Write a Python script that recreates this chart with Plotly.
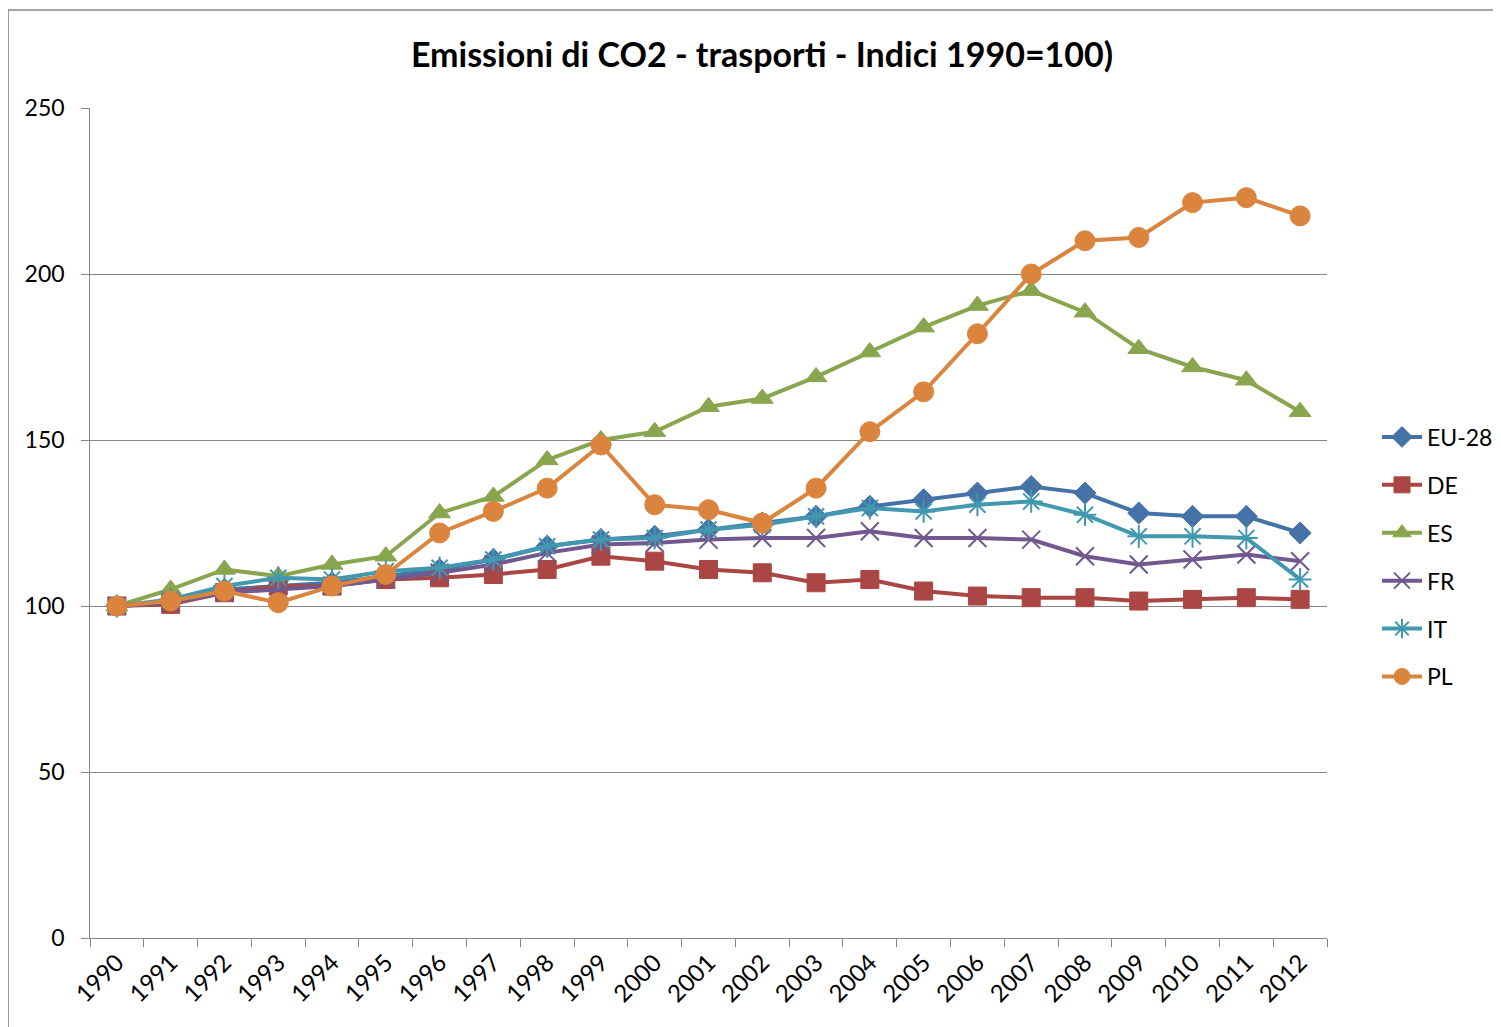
import plotly.graph_objects as go

years = [str(y) for y in range(1990, 2013)]

eu28 = [100, 101, 105, 106, 107, 109, 111, 114, 118, 120, 121, 123, 125, 127, 130, 132, 134, 136, 134, 128, 127, 127, 122]
de   = [100, 100.5, 104, 106, 106, 108, 108.5, 109.5, 111, 115, 113.5, 111, 110, 107, 108, 104.5, 103, 102.5, 102.5, 101.5, 102, 102.5, 102]
es   = [100, 105, 111, 109, 112.5, 115, 128, 133, 144, 150, 152.5, 160, 162.5, 169, 176.5, 184, 190.5, 195, 188.5, 177.5, 172, 168, 158.5]
fr   = [100, 101, 104, 105, 106, 108, 110, 112.5, 116, 118.5, 119, 120, 120.5, 120.5, 122.5, 120.5, 120.5, 120, 115, 112.5, 114, 115.5, 113.5]
it   = [100, 102, 106, 108.5, 108, 110.5, 111.5, 114, 118, 120, 120.5, 123, 124.5, 127, 129.5, 128.5, 130.5, 131.5, 127.5, 121, 121, 120.5, 108]
pl   = [100, 101.5, 104.5, 101, 106, 109.5, 122, 128.5, 135.5, 148.5, 130.5, 129, 125, 135.5, 152.5, 164.5, 182, 200, 210, 211, 221.5, 223, 217.5]

series = [
    ("EU-28", eu28, "#4572A7", "diamond", 17, 1),
    ("DE", de, "#AA4643", "square", 18, 1),
    ("ES", es, "#89A54E", "triangle-up", 19, 1),
    ("FR", fr, "#71588F", "x-thin-open", 18, 2),
    ("IT", it, "#4198AF", "asterisk-open", 19, 2),
    ("PL", pl, "#DB843D", "circle", 20, 1),
]

fig = go.Figure()
for i, (name, vals, color, sym, size, lw) in enumerate(series):
    fig.add_trace(go.Scatter(
        x=years, y=vals, name=name, mode="lines+markers", legendgroup=f"g{i}",
        line=dict(color=color, width=4),
        marker=dict(symbol=sym, size=size, color=color,
                    line=dict(color=color, width=lw)),
    ))

OFF = 8  # page body margin
W, H = 1501, 1019
L, T = 90 - OFF, 108 - OFF
pw, ph = 1238, 830
R, B = W - L - pw, H - T - ph

def px_x(p):
    return (p - OFF - L) / pw

def px_y(p):
    return (T + ph - (p - OFF)) / ph

fig.update_layout(
    width=W, height=H,
    margin=dict(l=L, r=R, t=T, b=B),
    paper_bgcolor="white", plot_bgcolor="white",
    font=dict(family="Lato, Carlito, Arial", size=20, color="#000000"),
    title=dict(text="<b>Emissioni di CO2 - trasporti - Indici 1990=100)</b>",
               x=(762 - OFF) / W, xanchor="center", y=1 - (55 - OFF) / H, yanchor="middle",
               font=dict(size=34, family="Lato, Arial", color="#000000")),
    showlegend=True,
    legend=dict(x=px_x(1377), xanchor="left", y=px_y(557), yanchor="middle",
                font=dict(size=23), tracegroupgap=15, itemwidth=40,
                bgcolor="rgba(0,0,0,0)"),
    xaxis=dict(type="category", range=[-0.5, 22.5], tickson="boundaries",
               ticks="outside", ticklen=8, tickcolor="#868686", tickwidth=1,
               showline=True, linecolor="#868686", linewidth=1,
               showgrid=False, tickangle=-45, tickfont=dict(size=24)),
    yaxis=dict(range=[0, 250], dtick=50, ticks="outside", ticklen=8,
               tickcolor="#868686", showline=True, linecolor="#868686", linewidth=1,
               showgrid=True, gridcolor="#868686", gridwidth=1, zeroline=False,
               tickfont=dict(size=23), ticksuffix="  "),
    shapes=[dict(type="rect", xref="paper", yref="paper",
                 x0=px_x(8), x1=px_x(1499),
                 y0=px_y(1040), y1=px_y(10),
                 line=dict(color="#868686", width=1.5), fillcolor="rgba(0,0,0,0)",
                 layer="below")],
)

fig.write_html("out.html")
